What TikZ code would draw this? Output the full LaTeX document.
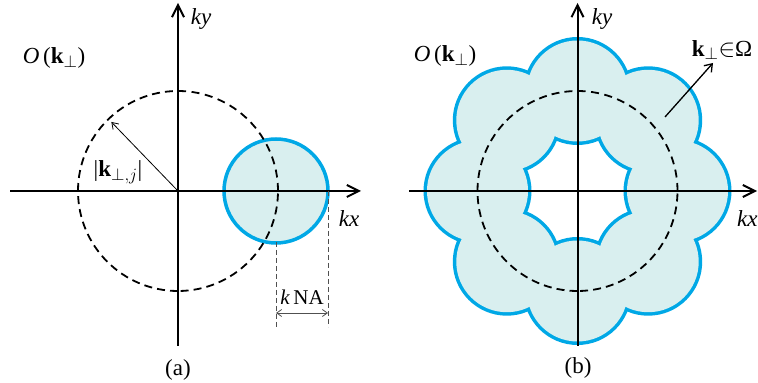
\documentclass[tikz,border=0pt]{standalone}
\usepackage{fontspec}
\setmainfont{Liberation Serif}
\usetikzlibrary{arrows.meta,calc}
\definecolor{cblue}{RGB}{0,168,230}
\definecolor{cfill}{RGB}{217,239,239}
\definecolor{cgray}{RGB}{80,80,80}
\begin{document}
\begin{tikzpicture}[x=1pt,y=1pt,
  axis/.style={line width=2pt,-{Straight Barb[length=12pt,width=12pt]}},
  dqa/.style={line width=1.8pt,dash pattern=on 8pt off 5.55pt},
  dqb/.style={line width=1.8pt,dash pattern=on 8pt off 5.09pt},
  dqc/.style={line width=1.8pt,dash pattern=on 8pt off 5.09pt,dash phase=10.5pt},
  lab/.style={font=\fontsize{23}{27}\selectfont,inner sep=0pt},
  smalllab/.style={font=\fontsize{21}{25}\selectfont,inner sep=0pt},
  thinarrow/.style={line width=0.8pt,-{Straight Barb[length=6pt,width=8pt]}},
  guide/.style={cgray,line width=0.8pt,dash pattern=on 5pt off 3pt}]
\useasboundingbox (0,0) rectangle (758,383);
\coordinate (oa) at (178,192);
\coordinate (ob) at (577.5,192);
\coordinate (ca) at (276,192);

% ---------- panel (a) ----------
\draw[cblue,line width=3.5pt,fill=cfill] (ca) circle[radius=52pt];

% ---------- panel (b) flower ----------
\foreach \a in {0,45,...,315}
  \draw[cblue,line width=7pt] ($(ob)+(\a:100pt)$) circle[radius=50.5pt];
\foreach \a in {0,45,...,315}
  \fill[cfill] ($(ob)+(\a:100pt)$) circle[radius=50.5pt];

% ---------- dashed circles ----------
\foreach \c in {oa,ob}{
  \draw[dqa] ($(\c)+(0:100pt)$) arc[start angle=0,end angle=90,radius=100pt];
  \draw[dqb] ($(\c)+(180:100pt)$) arc[start angle=180,end angle=90,radius=100pt];
  \draw[dqb] ($(\c)+(270:100pt)$) arc[start angle=270,end angle=180,radius=100pt];
  \draw[dqc] ($(\c)+(270:100pt)$) arc[start angle=270,end angle=360,radius=100pt];
}

% ---------- axes ----------
\coordinate (axl) at (10,192);   \coordinate (axr) at (361,192);
\coordinate (ayb) at (178,37);   \coordinate (ayt) at (178,380);
\coordinate (bxl) at (409,192);  \coordinate (bxr) at (757,192);
\coordinate (byb) at (577.5,37); \coordinate (byt) at (577.5,380);
\draw[axis] (axl) -- (axr);
\draw[axis] (ayb) -- (ayt);
\draw[axis] (bxl) -- (bxr);
\draw[axis] (byb) -- (byt);

% ---------- panel (a) annotations ----------
\coordinate (ra) at ($(oa)+(134:96pt)$);
\draw[thinarrow] (oa) -- (ra);
\coordinate (g1t) at (276,141); \coordinate (g1b) at (276,56);
\coordinate (g2t) at (328,192); \coordinate (g2b) at (328,56);
\draw[guide] (g1t) -- (g1b);
\draw[guide] (g2t) -- (g2b);
\coordinate (na1) at (276,70); \coordinate (na2) at (328,70);
\draw[cgray,line width=0.8pt,{Straight Barb[length=5pt,width=7pt]}-{Straight Barb[length=5pt,width=7pt]}] (na1) -- (na2);

\node[lab] (oka) at (54,325) {\textit{O}\,(\textbf{k}$_\perp$)};
\node[lab] (kya) at (201,364) {\textit{ky}};
\node[lab] (kxa) at (349,164) {\textit{kx}};
\node[lab] (kja) at (118,211) {|\textbf{k}$_{\perp,j}$|};
\node[smalllab] (kna) at (302,86) {\textit{k}\,NA};
\node[lab] (capa) at (178,13) {(a)};

% ---------- panel (b) annotations ----------
\coordinate (arb1) at (665,266); \coordinate (arb2) at (713,320);
\draw[line width=1.3pt,-{Straight Barb[length=7pt,width=10pt]}] (arb1) -- (arb2);
\node[lab] (okb) at (445,327) {\textit{O}\,(\textbf{k}$_\perp$)};
\node[lab] (kyb) at (602,364) {\textit{ky}};
\node[lab,anchor=west] (kxb) at (737,164) {\textit{kx}};
\node[lab] (kom) at (722,333) {\textbf{k}$_\perp$$\in$Ω};
\node[lab] (capb) at (578,15) {(b)};
\end{tikzpicture}
\end{document}
